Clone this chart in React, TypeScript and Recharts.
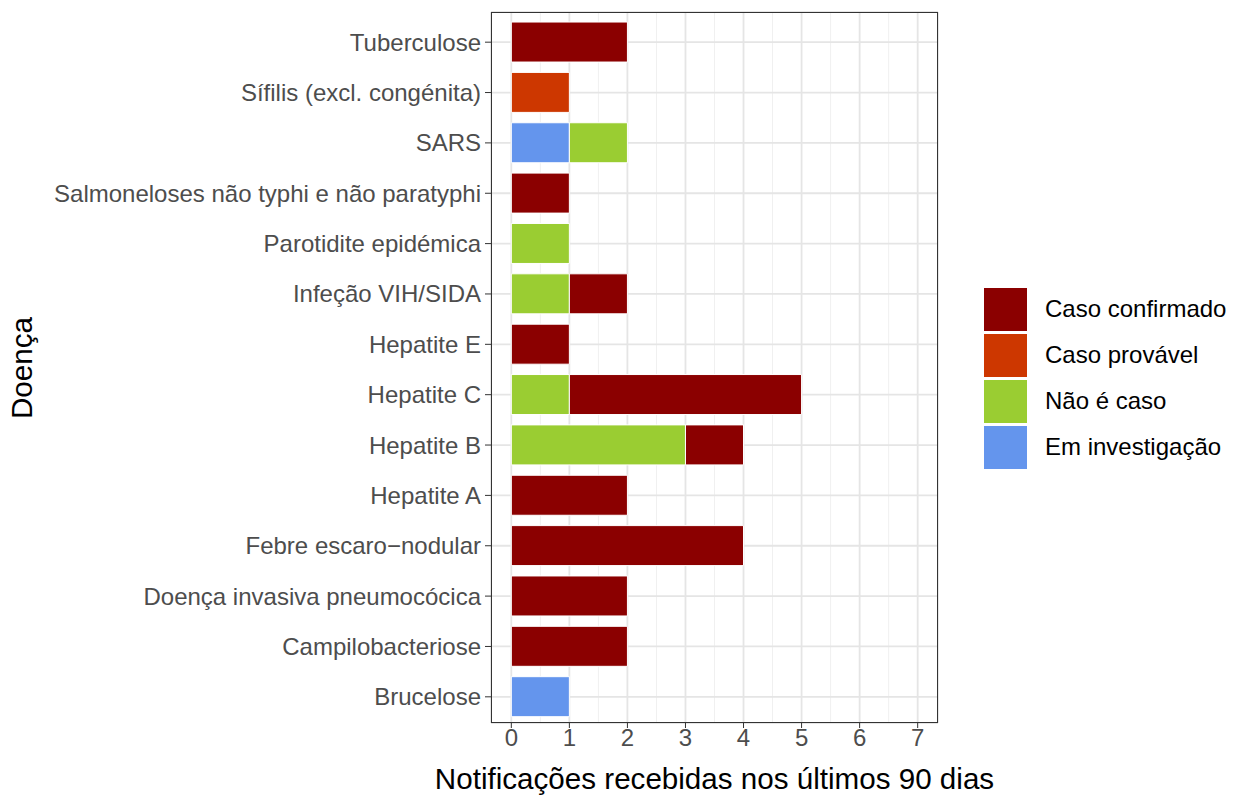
import { BarChart, Bar, XAxis, YAxis, CartesianGrid } from "recharts";

const diseases = [
  "Tuberculose",
  "Sífilis (excl. congénita)",
  "SARS",
  "Salmoneloses não typhi e não paratyphi",
  "Parotidite epidémica",
  "Infeção VIH/SIDA",
  "Hepatite E",
  "Hepatite C",
  "Hepatite B",
  "Hepatite A",
  "Febre escaro−nodular",
  "Doença invasiva pneumocócica",
  "Campilobacteriose",
  "Brucelose",
];
const emInvestigacao = [0, 0, 1, 0, 0, 0, 0, 0, 0, 0, 0, 0, 0, 1];
const naoCaso = [0, 0, 1, 0, 1, 1, 0, 1, 3, 0, 0, 0, 0, 0];
const provavel = [0, 1, 0, 0, 0, 0, 0, 0, 0, 0, 0, 0, 0, 0];
const confirmado = [2, 0, 0, 1, 0, 1, 1, 4, 1, 2, 4, 2, 2, 0];
const xTicks = [0, 1, 2, 3, 4, 5, 6, 7];
const xMinor = [0.5, 1.5, 2.5, 3.5, 4.5, 5.5, 6.5];

const series = [
  { key: "inv", label: "Em investigação", color: "#6495ED" },
  { key: "nao", label: "Não é caso", color: "#9ACD32" },
  { key: "prov", label: "Caso provável", color: "#CD3700" },
  { key: "conf", label: "Caso confirmado", color: "#8B0000" },
];

const data = diseases.map((name, i) => ({
  name,
  inv: emInvestigacao[i],
  nao: naoCaso[i],
  prov: provavel[i],
  conf: confirmado[i],
}));

const font = "'Liberation Sans', Arial, sans-serif";
const PL = 491, PT = 12, PR = 938, PB = 723;

export default function App() {
  return (
    <div style={{ position: "absolute", left: 0, top: 0, width: 1235, height: 796, background: "#fff", fontFamily: font }}>
      <BarChart
        width={1235}
        height={796}
        data={data}
        layout="vertical"
        barCategoryGap="10%"
        margin={{ top: PT, left: 30, right: 1235 - PR, bottom: 0 }}
      >
        <CartesianGrid xAxisId="m" horizontal={false} stroke="#f0f0f0" strokeWidth={1} />
        <CartesianGrid stroke="#e5e5e5" strokeWidth={1.8} />
        <XAxis
          type="number"
          domain={[-0.35, 7.35]}
          ticks={xTicks}
          height={796 - PB}
          tick={{ fill: "#4d4d4d", fontSize: 24, fontFamily: font }}
          tickSize={5}
          tickMargin={1}
          axisLine={false}
          tickLine={{ stroke: "#333" }}
          allowDataOverflow
        />
        <XAxis xAxisId="m" type="number" domain={[-0.35, 7.35]} ticks={xMinor} hide allowDataOverflow />
        <YAxis
          type="category"
          dataKey="name"
          width={PL - 30}
          padding={{ top: 5, bottom: 1 }}
          tick={{ fill: "#4d4d4d", fontSize: 24, fontFamily: font }}
          tickSize={6}
          tickMargin={4}
          axisLine={false}
          tickLine={{ stroke: "#333" }}
          interval={0}
        />
        {series.map((s) => (
          <Bar key={s.key} dataKey={s.key} stackId="a" fill={s.color} stroke="#fff" strokeWidth={1} isAnimationActive={false} />
        ))}
      </BarChart>
      <div style={{ position: "absolute", left: PL, top: PT, width: PR - PL - 2, height: PB - PT - 2, border: "1px solid #333", pointerEvents: "none" }} />
      <div style={{ position: "absolute", left: PL - 100, width: PR - PL + 200, top: 762, textAlign: "center", fontSize: 29.6, lineHeight: "34px", color: "#000", whiteSpace: "nowrap" }}>
        Notificações recebidas nos últimos 90 dias
      </div>
      <div style={{ position: "absolute", left: 22, top: 368, transform: "translate(-50%,-50%) rotate(-90deg)", fontSize: 29.6, whiteSpace: "nowrap" }}>
        Doença
      </div>
      <div style={{ position: "absolute", left: 984, top: 286 }}>
        {[...series].reverse().map((s) => (
          <div key={s.key} style={{ display: "flex", alignItems: "center", height: 46 }}>
            <div style={{ width: 43, height: 43, background: s.color }} />
            <span style={{ marginLeft: 18, fontSize: 24, whiteSpace: "nowrap" }}>{s.label}</span>
          </div>
        ))}
      </div>
    </div>
  );
}
